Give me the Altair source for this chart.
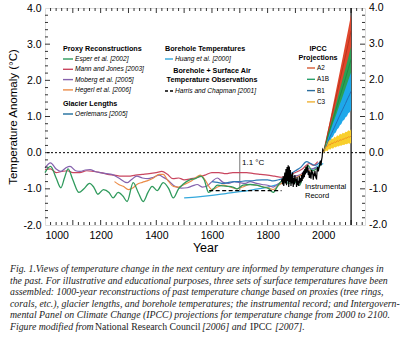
import altair as alt
import pandas as pd

# ---------------- data ----------------
esper_years = [1000, 1020, 1040, 1057, 1070, 1083, 1100, 1122, 1140, 1160, 1175, 1190, 1210, 1230, 1245,
               1263, 1280, 1295, 1317, 1335, 1353, 1370, 1385, 1403, 1425, 1445, 1461, 1480, 1495, 1520,
               1540, 1560, 1572, 1588, 1605, 1620, 1640, 1655, 1675, 1690, 1712, 1737, 1760, 1784, 1805,
               1820, 1838, 1856, 1875, 1895, 1915, 1930, 1945, 1960, 1975, 1990]
esper_vals = [-0.55, -0.38, -0.70, -0.97, -0.70, -0.45, -0.75, -1.10, -1.00, -0.85, -0.95, -1.15, -1.02, -1.10, -1.25,
              -1.10, -1.20, -1.35, -0.83, -1.10, -1.35, -1.10, -0.93, -1.05, -0.83, -1.00, -1.25, -1.00, -0.88, -0.75,
              -0.72, -0.65, -0.75, -1.10, -1.00, -0.90, -0.92, -0.93, -0.95, -1.00, -0.90, -0.88, -0.90, -0.95, -1.00,
              -1.10, -0.90, -0.75, -0.85, -0.80, -0.90, -0.55, -0.35, -0.50, -0.45, -0.35]

mann_years = [1000, 1020, 1040, 1060, 1080, 1100, 1125, 1150, 1175, 1200, 1225, 1250, 1275, 1300, 1325,
              1350, 1375, 1400, 1420, 1440, 1460, 1480, 1500, 1525, 1550, 1575, 1600, 1625, 1650, 1675,
              1700, 1725, 1750, 1775, 1800, 1825, 1850, 1875, 1900, 1925, 1950, 1965, 1980]
mann_vals = [-0.47, -0.45, -0.55, -0.52, -0.50, -0.55, -0.55, -0.50, -0.52, -0.55, -0.60, -0.62, -0.65, -0.65, -0.62,
             -0.60, -0.58, -0.55, -0.52, -0.60, -0.72, -0.70, -0.75, -0.72, -0.68, -0.62, -0.55, -0.55, -0.58, -0.55,
             -0.55, -0.55, -0.58, -0.60, -0.62, -0.65, -0.68, -0.62, -0.55, -0.45, -0.30, -0.35, -0.25]

moberg_years = [1000, 1020, 1040, 1057, 1075, 1090, 1110, 1126, 1145, 1162, 1180, 1198, 1220, 1240, 1265,
                1295, 1310, 1330, 1350, 1370, 1390, 1410, 1425, 1440, 1467, 1490, 1511, 1530, 1547, 1565,
                1583, 1600, 1619, 1640, 1660, 1680, 1700, 1720, 1737, 1760, 1780, 1800, 1820, 1840, 1860,
                1880, 1900, 1920, 1940, 1960, 1979]
moberg_vals = [-0.42, -0.28, -0.45, -0.52, -0.42, -0.38, -0.50, -0.52, -0.48, -0.47, -0.52, -0.55, -0.58, -0.60, -0.70,
               -0.83, -0.75, -0.65, -0.70, -0.72, -0.68, -0.62, -0.68, -0.75, -0.93, -0.98, -0.97, -0.92, -0.88, -0.95,
               -0.92, -0.80, -0.70, -0.82, -0.85, -0.80, -0.83, -0.85, -0.80, -0.85, -0.88, -0.90, -0.95, -0.85, -0.75,
               -0.70, -0.65, -0.60, -0.45, -0.45, -0.40]

hegerl_years = [1250, 1265, 1281, 1300, 1315, 1330, 1350, 1367, 1390, 1410, 1425, 1440, 1461, 1480, 1500,
                1522, 1540, 1558, 1575, 1600, 1620, 1640, 1665, 1690, 1710, 1737, 1760, 1785, 1805, 1820,
                1840, 1860, 1880, 1900, 1920, 1940, 1960]
hegerl_vals = [-0.80, -0.88, -0.93, -1.02, -0.98, -0.88, -0.82, -0.78, -0.70, -0.60, -0.60, -0.75, -0.93, -0.95, -0.88,
               -0.80, -0.70, -0.62, -0.75, -1.02, -0.95, -0.90, -0.95, -1.00, -0.95, -0.88, -0.90, -0.95, -0.98, -1.02,
               -0.90, -0.80, -0.75, -0.70, -0.62, -0.50, -0.50]

oerlemans_years = [1600, 1620, 1640, 1660, 1680, 1700, 1720, 1740, 1760, 1780, 1800, 1820, 1840, 1860, 1880,
                   1900, 1920, 1940, 1955, 1970, 1990]
oerlemans_vals = [-0.80, -0.82, -0.85, -0.82, -0.80, -0.80, -0.78, -0.78, -0.76, -0.75, -0.75, -0.78, -0.75, -0.70, -0.60,
                  -0.50, -0.40, -0.25, -0.30, -0.35, -0.25]

huang_years = [1500, 1550, 1600, 1650, 1700, 1750, 1800, 1850, 1900, 1950, 2000]
huang_vals = [-1.25, -1.22, -1.18, -1.13, -1.08, -1.02, -0.95, -0.85, -0.70, -0.50, -0.30]

harris_years = [1590, 1850]
harris_vals = [-1.05, -1.05]

instr_years = list(range(1850, 2001, 2))
instr_vals = [-0.80, -0.72, -0.88, -0.65, -0.92, -0.70, -0.55, -0.85, -0.45, -0.90,
              -0.40, -0.78, -0.35, -0.95, -0.38, -0.82, -0.48, -0.92, -0.60, -0.85,
              -0.55, -0.95, -0.70, -0.88, -0.62, -0.80, -0.72, -0.95, -0.68, -0.90,
              -0.78, -0.92, -0.65, -0.85, -0.70, -0.82, -0.62, -0.78, -0.55, -0.72,
              -0.50, -0.68, -0.45, -0.60, -0.40, -0.55, -0.42, -0.35, -0.62, -0.50,
              -0.70, -0.52, -0.66, -0.72, -0.48, -0.60, -0.52, -0.75, -0.58, -0.65,
              -0.50, -0.62, -0.70, -0.72, -0.48, -0.40, -0.52, -0.45, -0.38, -0.28,
              -0.22, -0.35, -0.20, -0.12, 0.08, 0.05]

proj10_years = [2000, 2010, 2020, 2030, 2040, 2050, 2060, 2070, 2080, 2090, 2100]
a2_hi = [0, 0.36, 0.74, 1.12, 1.50, 1.88, 2.26, 2.64, 3.03, 3.42, 3.82]
a2_mid = [0, 0.33, 0.67, 1.00, 1.34, 1.67, 2.01, 2.35, 2.68, 3.02, 3.37]
a1b_hi = [0, 0.30, 0.60, 0.88, 1.17, 1.46, 1.76, 2.05, 2.34, 2.63, 2.93]
a1b_mid = [0, 0.27, 0.54, 0.79, 1.05, 1.30, 1.56, 1.81, 2.06, 2.32, 2.58]
a1b_lo = [0, 0.18, 0.36, 0.55, 0.72, 0.90, 1.07, 1.24, 1.40, 1.55, 1.70]

proj5_years = list(range(2000, 2101, 5))
b1_hi = [0, 0.12, 0.24, 0.36, 0.48, 0.59, 0.70, 0.81, 0.92, 1.02, 1.13, 1.24, 1.35, 1.45, 1.56, 1.67, 1.78, 1.89, 2.00, 2.11, 2.22]
b1_mid = [0, 0.09, 0.18, 0.27, 0.36, 0.45, 0.53, 0.62, 0.70, 0.79, 0.87, 0.96, 1.04, 1.12, 1.20, 1.28, 1.36, 1.45, 1.53, 1.61, 1.70]
b1_lo = [0, 0.06, 0.14, 0.19, 0.28, 0.32, 0.41, 0.44, 0.53, 0.56, 0.65, 0.68, 0.76, 0.79, 0.88, 0.90, 0.98, 1.01, 1.09, 1.12, 1.19]
c3_hi = [0, 0.18, 0.26, 0.30, 0.36, 0.33, 0.40, 0.38, 0.44, 0.42, 0.48, 0.46, 0.52, 0.50, 0.55, 0.53, 0.58, 0.57, 0.62, 0.60, 0.65]
c3_mid = [0, 0.10, 0.16, 0.17, 0.23, 0.21, 0.27, 0.25, 0.30, 0.28, 0.33, 0.31, 0.36, 0.34, 0.38, 0.37, 0.41, 0.40, 0.44, 0.43, 0.46]
c3_lo = [0, 0.02, 0.06, 0.04, 0.10, 0.08, 0.13, 0.11, 0.16, 0.14, 0.18, 0.17, 0.20, 0.19, 0.22, 0.21, 0.24, 0.23, 0.26, 0.25, 0.27]

x_label_years = [1000, 1200, 1400, 1600, 1800, 2000]
y_label_vals = [-2, -1, 0, 1, 2, 3, 4]
x_major_ticks = list(range(1100, 2150, 100))
x_minor_ticks = [v for v in range(1020, 2150, 20) if v % 100 != 0]
y_major_ticks = [-1, 0, 1, 2, 3]
y_minor_ticks = [-1.8, -1.6, -1.4, -1.2, -0.8, -0.6, -0.4, -0.2, 0.2, 0.4, 0.6, 0.8,
                 1.2, 1.4, 1.6, 1.8, 2.2, 2.4, 2.6, 2.8, 3.2, 3.4, 3.6, 3.8]

proxy_names = ["Esper et al. [2002]", "Mann and Jones [2003]", "Moberg et al. [2005]", "Hegerl et al. [2006]"]
proxy_colors = ["#2f9a5c", "#c9465f", "#8562ad", "#eb8c48"]
ipcc_names = ["A2", "A1B", "B1", "C3"]
ipcc_legend_colors = ["#d65b36", "#2aa06c", "#2c6e9e", "#efb234"]

caption_lines = [
    "Fig. 1.Views of temperature change in the next century are informed by temperature changes in",
    "the past. For illustrative and educational purposes, three sets of surface temperatures have been",
    "assembled: 1000-year reconstructions of past temperature change based on proxies (tree rings,",
    "corals, etc.), glacier lengths, and borehole temperatures; the instrumental record; and Intergovern-",
    "mental Panel on Climate Change (IPCC) projections for temperature change from 2000 to 2100.",
]

# ---------------- helpers ----------------
W, H = 320, 217
SANS = "Liberation Sans"
SERIF = "Liberation Serif"
XS = alt.Scale(domain=[1000, 2150], nice=False, zero=False)
YS = alt.Scale(domain=[-2, 4], nice=False, zero=False)


def X(f):
    return alt.X(f, type="quantitative", scale=XS, axis=None)


def Y(f):
    return alt.Y(f, type="quantitative", scale=YS, axis=None)


def series_df(years, vals):
    return pd.DataFrame({"year": years, "t": vals})


def line(years, vals, color, width=1.2, dash=None, interp="monotone"):
    kw = dict(color=color, strokeWidth=width, interpolate=interp)
    if dash:
        kw["strokeDash"] = dash
    return alt.Chart(series_df(years, vals)).mark_line(**kw).encode(x=X("year"), y=Y("t"))


def band(years, lo, hi, color, opacity=1.0):
    df = pd.DataFrame({"year": years, "lo": lo, "hi": hi})
    return alt.Chart(df).mark_area(color=color, opacity=opacity, interpolate="linear").encode(
        x=X("year"), y=Y("lo"), y2="hi")


def label(txt, x, y, size=6.6, weight="normal", style="normal", align="left", font=SANS, color="black"):
    return alt.Chart(pd.DataFrame({"t": [txt]})).mark_text(
        align=align, baseline="middle", fontSize=size, fontWeight=weight, fontStyle=style,
        font=font, color=color).encode(x=alt.value(x), y=alt.value(y), text="t:N")


def seg(x1, x2, y, color, dash=None, width=1.4):
    kw = dict(color=color, strokeWidth=width)
    if dash:
        kw["strokeDash"] = dash
    return alt.Chart(pd.DataFrame({"a": [0]})).mark_rule(**kw).encode(
        x=alt.value(x1), x2=alt.value(x2), y=alt.value(y))


def xticks(vals, length):
    df = pd.DataFrame({"v": vals})
    base = alt.Chart(df).mark_rule(color="black", strokeWidth=0.8)
    return [base.encode(x=X("v"), y=alt.value(H), y2=alt.value(H - length)),
            base.encode(x=X("v"), y=alt.value(0), y2=alt.value(length))]


def yticks(vals, length):
    df = pd.DataFrame({"v": vals})
    base = alt.Chart(df).mark_rule(color="black", strokeWidth=0.8)
    return [base.encode(y=Y("v"), x=alt.value(0), x2=alt.value(length)),
            base.encode(y=Y("v"), x=alt.value(W), x2=alt.value(W - length))]


LABEL_EXPR = "(datum.value < 0 ? '-' : '') + format(abs(datum.value), '.1f')"

# ---------------- layers ----------------
layers = []

# axes carrier (left y + bottom x)
axes_df = pd.DataFrame({"year": [1000, 2000], "t": [-2, 4]})
layers.append(alt.Chart(axes_df).mark_point(opacity=0).encode(
    x=alt.X("year", type="quantitative", scale=XS,
            axis=alt.Axis(values=x_label_years, format="d", title="Year", ticks=False, domain=False,
                          grid=False, labelPadding=5, titlePadding=1, labelFontSize=10.5,
                          titleFontSize=12.5, titleFontWeight="normal", labelFont=SANS, titleFont=SANS,
                          labelColor="black", titleColor="black")),
    y=alt.Y("t", type="quantitative", scale=YS,
            axis=alt.Axis(values=y_label_vals, labelExpr=LABEL_EXPR, title="Temperature Anomaly (°C)",
                          ticks=False, domain=False, grid=False, labelPadding=4, titlePadding=4,
                          labelFontSize=10.5, titleFontSize=11.5, titleFontWeight="normal",
                          labelFont=SANS, titleFont=SANS, labelColor="black", titleColor="black"))))

# right-side tick labels (same values, drawn through the y scale)
right_df = pd.DataFrame({"t": y_label_vals,
                         "lab": [("-" if v < 0 else "") + f"{abs(v):.1f}" for v in y_label_vals]})
layers.append(alt.Chart(right_df).mark_text(align="left", baseline="middle", fontSize=10.5, font=SANS,
                                            color="black").encode(
    y=Y("t"), x=alt.value(W + 4), text="lab:N"))

# zero line
layers.append(alt.Chart(pd.DataFrame({"t": [0]})).mark_rule(
    color="black", strokeWidth=1, strokeDash=[2, 2]).encode(y=Y("t")))
# 2100 line
layers.append(alt.Chart(pd.DataFrame({"year": [2100]})).mark_rule(
    color="black", strokeWidth=1.2).encode(x=X("year")))
# 1.1 C marker
layers.append(alt.Chart(pd.DataFrame({"year": [1700], "a": [0.0], "b": [-1.05]})).mark_rule(
    color="#777777", strokeWidth=1).encode(x=X("year"), y=Y("a"), y2="b"))

# projections
layers.append(band(proj10_years, a1b_lo, a2_hi, "#e0462c"))
layers.append(band(proj10_years, a1b_lo, a1b_hi, "#2aa155"))
layers.append(band(proj5_years, b1_lo, b1_hi, "#1ea8ea"))
layers.append(band(proj5_years, c3_lo, c3_hi, "#f8cf2c"))
layers.append(line(proj10_years, a2_mid, "#b8321c", 0.9, interp="linear"))
layers.append(line(proj10_years, a1b_mid, "#1d8744", 0.9, interp="linear"))
layers.append(line(proj5_years, b1_mid, "#2368b0", 0.9, interp="linear"))
layers.append(line(proj5_years, c3_mid, "#f0901e", 0.9, interp="linear"))

# proxies
layers.append(line(huang_years, huang_vals, "#33a8dc", 1.3))
layers.append(line(mann_years, mann_vals, proxy_colors[1]))
layers.append(line(moberg_years, moberg_vals, proxy_colors[2]))
layers.append(line(hegerl_years, hegerl_vals, proxy_colors[3]))
layers.append(line(oerlemans_years, oerlemans_vals, "#2d79b5"))
layers.append(line(esper_years, esper_vals, proxy_colors[0], 1.3))
layers.append(line(harris_years, harris_vals, "black", 1.3, dash=[4, 2.5], interp="linear"))
layers.append(line(instr_years, instr_vals, "black", 1.2, interp="linear"))

# ticks (inside)
layers += xticks(x_major_ticks, 5) + xticks(x_minor_ticks, 3)
layers += yticks(y_major_ticks, 5) + yticks(y_minor_ticks, 3)

# legend: proxies
layers.append(label("Proxy Reconstructions", 18, 41, size=7.2, weight="bold"))
for i, (n, c) in enumerate(zip(proxy_names, proxy_colors)):
    yy = 51 + i * 10.3
    layers.append(seg(18, 28, yy, c))
    layers.append(label(n, 30, yy, style="italic"))
layers.append(label("Glacier Lengths", 18, 96, size=7.2, weight="bold"))
layers.append(seg(18, 28, 106, "#1f6e9c"))
layers.append(label("Oerlemans [2005]", 30, 106, style="italic"))

# legend: borehole
layers.append(label("Borehole Temperatures", 120, 41, size=7.2, weight="bold"))
layers.append(seg(120, 128, 51, "#33a8dc"))
layers.append(label("Huang et al. [2000]", 130, 51, style="italic"))
layers.append(label("Borehole + Surface Air", 167, 63, size=7.2, weight="bold", align="center"))
layers.append(label("Temperature Observations", 167, 72, size=7.2, weight="bold", align="center"))
layers.append(seg(120, 128, 83, "black", dash=[3, 2]))
layers.append(label("Harris and Chapman [2001]", 130, 83, style="italic"))

# legend: IPCC
layers.append(label("IPCC", 273, 41, size=7.2, weight="bold", align="center"))
layers.append(label("Projections", 273, 49.5, size=7.2, weight="bold", align="center"))
for i, (n, c) in enumerate(zip(ipcc_names, ipcc_legend_colors)):
    yy = 60 + i * 11.3
    layers.append(seg(262, 270, yy, c))
    layers.append(label(n, 272, yy, size=6.4))

# annotations
layers.append(label("1.1 °C", 197, 155, size=8))
layers.append(label("Instrumental", 260, 179, size=7.5))
layers.append(label("Record", 260, 188, size=7.5))

# caption
CAP = 9.8
CAPC = "#222222"
for i, txt in enumerate(caption_lines):
    layers.append(label(txt, -35, 261 + i * 11.6, size=CAP, style="italic", font=SERIF, color=CAPC))
y6 = 261 + 5 * 11.6
layers.append(label("Figure modified from", -35, y6, size=CAP, style="italic", font=SERIF, color=CAPC))
layers.append(label("National Research Council", 50, y6, size=CAP, font=SERIF, color=CAPC))
layers.append(label("[2006] and", 157, y6, size=CAP, style="italic", font=SERIF, color=CAPC))
layers.append(label("IPCC", 205, y6, size=CAP, font=SERIF, color=CAPC))
layers.append(label("[2007].", 230, y6, size=CAP, style="italic", font=SERIF, color=CAPC))

chart = alt.layer(*layers).resolve_axis(x="independent", y="independent").properties(
    width=W, height=H,
    autosize=alt.AutoSizeParams(type="none"),
    padding={"left": 45, "top": 8, "right": 35, "bottom": 112},
).configure_view(stroke="black", strokeWidth=1.2).configure(background="white")

chart.save("out.html", embed_options={"renderer": "svg", "actions": False})
